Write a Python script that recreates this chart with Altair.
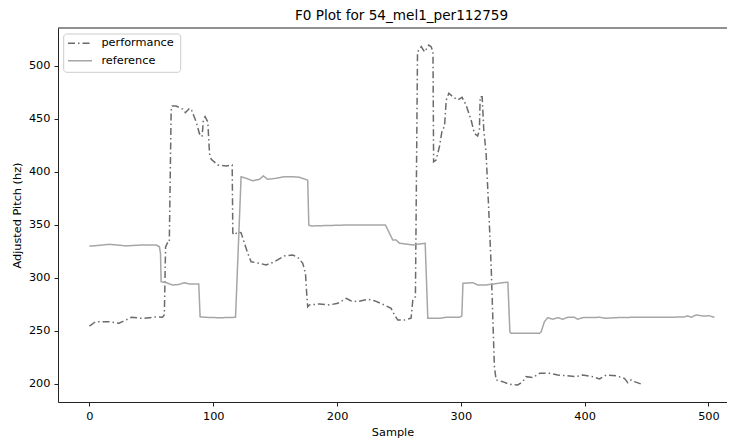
import altair as alt
import pandas as pd

# Performance F0 (sample index, Hz)
perf_x = [0, 5, 16, 24, 34, 43, 54, 59, 60.5, 61.5, 63, 64.5, 66, 66.8, 70, 75.4, 77.5, 80.8,
          82.5, 86.2, 88.8, 91, 92, 93.4, 95.6, 97, 98.4, 103.7, 110.4, 115.3, 115.8, 117,
          119.8, 122.5, 125.2, 127.9, 130.6, 137.3, 142.7, 149.4, 157.5, 164.2, 168.3, 172.3,
          174.5, 175.5, 176.3, 177.7, 185.8, 193.9, 200.6, 207.4, 211.4, 216.8, 224.8, 230.2,
          237, 243.7, 246.4, 249.1, 254.4, 259.8, 261.2, 263.3, 265, 268, 270.7, 274.1, 276,
          277.5, 278, 280, 282.7, 284.9, 286.8, 288.2, 290.3, 293.5, 297.5, 301, 304.2, 308.3,
          310.9, 313.6, 315, 315.6, 317.2, 318.5, 320.4, 322.5, 324.5, 327.1, 328.5, 333.8,
          339.3, 346, 350, 352.7, 358.1, 363.6, 371.6, 378.3, 385, 393.1, 398.5, 406.6, 412,
          417.4, 425.4, 432.1, 434.9, 437.6, 440.2, 446.4]
perf_y = [254.4, 258.5, 258.5, 257, 262.6, 261.6, 263, 262.6, 265, 329, 332.7, 333, 458, 462,
          462, 459, 455.7, 459.8, 458, 447, 436, 433, 448.8, 451.9, 447, 417, 411.7, 406.3,
          405.4, 406.3, 342, 340.3, 343.4, 342.3, 332.5, 323, 315, 313.6, 312, 315, 320.5,
          321.4, 319.2, 313.6, 304, 285, 272.6, 274.3, 275.2, 274.3, 275.8, 280.5, 278, 277.4,
          279.6, 278.3, 274.9, 271, 264.8, 260, 260, 261.7, 278.9, 282, 513, 518, 513, 519.5,
          518, 513, 409.4, 411, 423.6, 439.3, 442.4, 467.6, 474, 470.8, 467.6, 470.2, 463,
          448.8, 436.2, 433.7, 439.3, 470.8, 470.8, 440, 417.4, 365, 310.4, 216, 203.5, 201.9,
          199.4, 198.8, 201.9, 206.6, 205.7, 209.8, 209.8, 208.2, 207.5, 206.6, 208.2, 206.6,
          204.4, 208.2, 207.5, 205, 200.9, 203.5, 201.9, 199.4]

# Reference F0 (sample index, Hz)
ref_x = [0, 3, 16.2, 29.6, 43, 53.8, 56.5, 57.4, 57.9, 62, 67.3, 72.7, 76.7, 80.8, 88.3, 89.4,
         94.2, 105, 118, 122.5, 126.5, 131.9, 137.3, 140.5, 144, 150.8, 157.5, 164.2, 169.6,
         174.5, 176.3, 177.2, 179, 207.4, 239.1, 242.3, 245, 247.7, 250.4, 261.2, 271.2, 273.3,
         282.7, 288.2, 299, 300.8, 301.7, 309.8, 313.8, 319.2, 325.9, 334, 338, 339.6, 340.6,
         344.6, 363.5, 364.9, 367.5, 370.2, 374.2, 378.3, 382.3, 386.4, 391.8, 394.5, 398.5,
         412, 417.4, 425.4, 438.9, 452.3, 465.8, 480.6, 483.3, 486, 490, 495.4, 500.8, 504.8]
ref_y = [329.9, 330, 331.5, 330, 330.9, 330.9, 329.2, 323, 296.2, 295.3, 293, 293.7, 295.3, 294,
         294, 263, 262.6, 262.2, 262.6, 395.3, 393.8, 391.5, 392.8, 396, 392.8, 393.8, 395.3,
         395.3, 394.7, 392.8, 392, 349.7, 348.8, 349.7, 349.7, 342, 335.6, 335.6, 332.5, 330.9,
         332.5, 261.7, 261.7, 262.6, 262.6, 264, 294.7, 295.3, 293, 293, 294, 295.3, 295.7,
         249, 247.5, 247.5, 247.5, 249, 258.5, 262.3, 260.8, 262.3, 260.8, 262.6, 262.6, 260.8,
         262.3, 262.6, 261.7, 262.3, 262.6, 262.6, 262.6, 263, 264, 262.6, 264.8, 263.9, 264,
         262.6]

x_ticks = [0, 100, 200, 300, 400, 500]
y_ticks = [200, 250, 300, 350, 400, 450, 500]
series_names = ["performance", "reference"]
series_colors = ["#6b6b6b", "#a6a6a6"]
series_dashes = [[7, 3, 1.5, 3], [1, 0]]

df = pd.concat([
    pd.DataFrame({"Sample": perf_x, "Pitch": perf_y, "series": series_names[0],
                  "idx": range(len(perf_x))}),
    pd.DataFrame({"Sample": ref_x, "Pitch": ref_y, "series": series_names[1],
                  "idx": range(len(ref_x))}),
])

FONT = "DejaVu Sans"
W, H = 669, 374
PX_PER_SAMPLE = 1.238
X0 = -25.4
X1 = X0 + W / PX_PER_SAMPLE

lines = alt.Chart(df).mark_line(strokeWidth=1.5, clip=True).encode(
    x=alt.X("Sample:Q",
            scale=alt.Scale(domain=[X0, X1], nice=False, zero=False),
            axis=alt.Axis(values=x_ticks, title="Sample", grid=False, format="d")),
    y=alt.Y("Pitch:Q",
            scale=alt.Scale(domain=[182.7, 535.6], nice=False, zero=False),
            axis=alt.Axis(values=y_ticks, title="Adjusted Pitch (hz)", grid=False, format="d")),
    color=alt.Color("series:N",
                    scale=alt.Scale(domain=series_names, range=series_colors),
                    legend=None),
    strokeDash=alt.StrokeDash("series:N",
                              scale=alt.Scale(domain=series_names, range=series_dashes),
                              legend=None),
    order="idx:Q",
)

one = pd.DataFrame({"a": [0]})

top_spine = alt.Chart(one).mark_rule(color="#222222", strokeWidth=1).encode(
    x=alt.value(0), x2=alt.value(W), y=alt.value(0)
)

# legend (decoration)
legend_box = alt.Chart(one).mark_rect(
    fill="white", fillOpacity=0.8, stroke="#cccccc", strokeWidth=1, cornerRadius=3
).encode(x=alt.value(5.7), x2=alt.value(122.7), y=alt.value(6), y2=alt.value(44.3))

legend_layers = [legend_box]
row_y = [15.3, 32.7]
for name, col, dash, ry in zip(series_names, series_colors, series_dashes, row_y):
    legend_layers.append(
        alt.Chart(one).mark_rule(color=col, strokeWidth=1.5, strokeDash=dash).encode(
            x=alt.value(10), x2=alt.value(34), y=alt.value(ry))
    )
    legend_layers.append(
        alt.Chart(one).mark_text(text=name, font=FONT, fontSize=11.3, color="black",
                                 align="left", baseline="middle").encode(
            x=alt.value(43.4), y=alt.value(ry))
    )

chart = alt.layer(lines, top_spine, *legend_layers).properties(
    width=W, height=H,
    autosize=alt.AutoSizeParams(type="none"),
    padding={"left": 50, "top": 20, "right": 0, "bottom": 36},
    title=alt.TitleParams("F0 Plot for 54_mel1_per112759", font=FONT, fontSize=13.6,
                          fontWeight="normal", color="black", anchor="middle",
                          offset=8, dx=9, dy=3),
).configure_view(stroke=None).configure_axis(
    labelFont=FONT, labelFontSize=11.3, labelColor="black",
    titleFont=FONT, titleFontSize=11.3, titleFontWeight="normal", titleColor="black",
    domainColor="#222222", domainWidth=1, tickColor="#222222", tickSize=4, tickWidth=1,
    labelPadding=4,
).configure_axisY(titlePadding=6).configure_axisX(titlePadding=5)

chart.save("out.html", embed_options={"renderer": "svg", "actions": False})
